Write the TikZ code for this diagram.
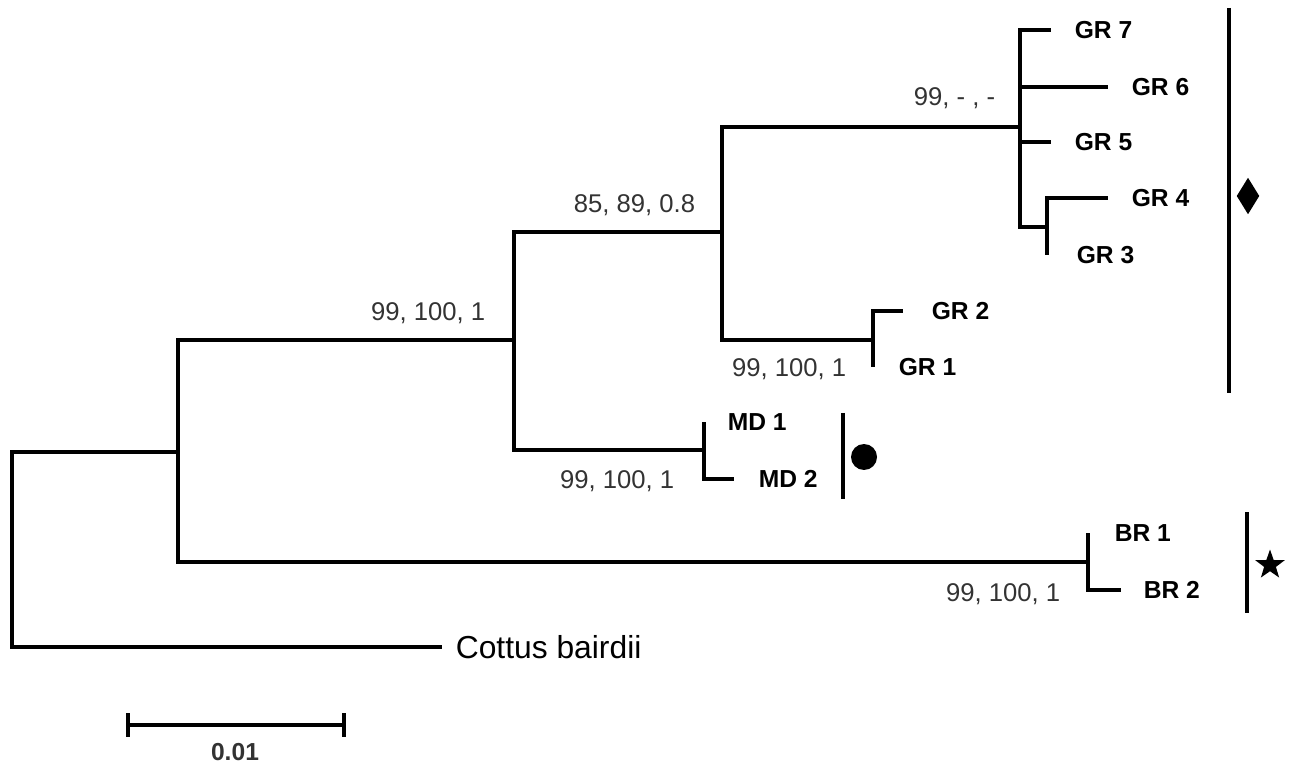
\documentclass[tikz,border=0pt]{standalone}
\usepackage{fontspec}
\setmainfont{Liberation Sans}
\usetikzlibrary{positioning,shapes.geometric}

\begin{document}
\begin{tikzpicture}[x=0.02cm, y=-0.02cm, line width=2.1pt,
  taxon/.style = {anchor=west, inner sep=0pt, font=\fontsize{14}{16}\selectfont\bfseries},
  support/.style = {anchor=east, inner sep=0pt, text=black!80, font=\fontsize{14.6}{17}\selectfont},
  symb/.style = {fill=black, draw=none, inner sep=0pt}]
  \useasboundingbox (0,0) rectangle (1291,766);
  % internal nodes
  \coordinate (root) at (12,452);
  \coordinate (a) at (178,452);
  \coordinate (b) at (514,340);
  \coordinate (c) at (722,232);
  \coordinate (gr) at (1020,127);
  \coordinate (d) at (1047,227);
  \coordinate (g12) at (873,340);
  \coordinate (md) at (704,450);
  \coordinate (br) at (1088,562);
  % tips
  \coordinate (t7) at (1051,30);
  \coordinate (t6) at (1108,87);
  \coordinate (t5) at (1051,142);
  \coordinate (t4) at (1108,198);
  \coordinate (t3) at (1047,255);
  \coordinate (t2) at (903,311);
  \coordinate (t1) at (873,367);
  \coordinate (m1) at (704,422);
  \coordinate (m2) at (734,479);
  \coordinate (b1) at (1088,533);
  \coordinate (b2) at (1121,590);
  \coordinate (og) at (442,647);
  % branches
  \draw (a) -- (root) |- (og);
  \draw (a) |- (b);
  \draw (a) |- (br);
  \draw (b) |- (c);
  \draw (b) |- (md);
  \draw (c) |- (gr);
  \draw (c) |- (g12);
  \draw (gr) |- (t7);
  \draw (gr) |- (t6);
  \draw (gr) |- (t5);
  \draw (gr) |- (d);
  \draw (d) |- (t4);
  \draw (d) -- (t3);
  \draw (g12) |- (t2);
  \draw (g12) -- (t1);
  \draw (md) -- (m1);
  \draw (md) |- (m2);
  \draw (br) -- (b1);
  \draw (br) |- (b2);
  % taxa
  \node[taxon, right=4.4mm of t7] (gr7) {GR 7};
  \node[taxon, right=4.4mm of t6] (gr6) {GR 6};
  \node[taxon, right=4.4mm of t5] (gr5) {GR 5};
  \node[taxon, right=4.4mm of t4] (gr4) {GR 4};
  \node[taxon, right=5.6mm of t3] (gr3) {GR 3};
  \node[taxon, right=5.4mm of t2] (gr2) {GR 2};
  \node[taxon, right=4.8mm of t1] (gr1) {GR 1};
  \node[taxon, right=4.4mm of m1] (md1) {MD 1};
  \node[taxon, right=4.6mm of m2] (md2) {MD 2};
  \node[taxon, right=5mm of b1] (br1) {BR 1};
  \node[taxon, right=4.2mm of b2] (br2) {BR 2};
  \node[anchor=west, inner sep=0pt, font=\fontsize{18.1}{21}\selectfont, right=2.4mm of og] (cb) {Cottus bairdii};
  % support values
  \node[support] (s1) at (997,98) {99, - , -};
  \node[support] (s2) at (697,205) {85, 89, 0.8};
  \node[support] (s3) at (487,313) {99, 100, 1};
  \node[support] (s4) at (848,369) {99, 100, 1};
  \node[support] (s5) at (676,481) {99, 100, 1};
  \node[support] (s6) at (1062,594) {99, 100, 1};
  % clade bars
  \draw (1229,8) -- (1229,393);
  \draw (843,413) -- (843,499);
  \draw (1247,512) -- (1247,613);
  \node[symb, diamond, minimum width=0.48cm, minimum height=0.76cm] (dia) at (1248,196) {};
  \node[symb, circle, minimum size=0.52cm] (dot) at (864,457) {};
  \node[symb, star, star points=5, star point ratio=2.5, minimum size=0.62cm] (str) at (1270,565) {};
  % scale bar
  \draw[line width=2.5pt] (128,725) -- (344,725);
  \draw (128,713) -- (128,737);
  \draw (344,713) -- (344,737);
  \node[inner sep=0pt, text=black!80, font=\fontsize{14}{16}\selectfont\bfseries] (sc) at (235,752) {0.01};
\end{tikzpicture}
\end{document}
